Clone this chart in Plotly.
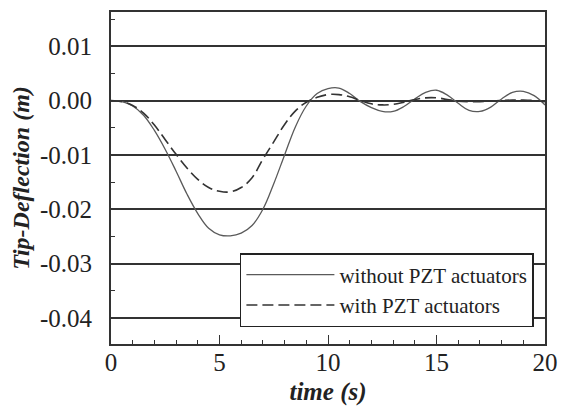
import plotly.graph_objects as go

time_s = [0, 0.5, 1.0, 1.5, 2.0, 2.5, 3.0, 3.5, 4.0, 4.5, 5.0, 5.5, 6.0, 6.5, 7.0,
          7.5, 8.0, 8.5, 9.0, 9.5, 10.0, 10.5, 11.0, 11.5, 12.0, 12.5, 13.0, 13.5,
          14.0, 14.5, 15.0, 15.5, 16.0, 16.5, 17.0, 17.5, 18.0, 18.5, 19.0, 19.5, 20.0]

without_pzt = [0, -0.0002, -0.0010, -0.0027, -0.0055, -0.0090, -0.0130, -0.0172,
               -0.0208, -0.0235, -0.0247, -0.0249, -0.0244, -0.0230, -0.0200,
               -0.0153, -0.0100, -0.0048, -0.0010, 0.0013, 0.0022, 0.0023, 0.0013,
               -0.0002, -0.0013, -0.0020, -0.0020, -0.0011, 0.0003, 0.0015, 0.0019,
               0.0010, -0.0005, -0.0018, -0.0020, -0.0012, 0.0003, 0.0015, 0.0017,
               0.0009, -0.0008]

with_pzt = [0, -0.0002, -0.0009, -0.0023, -0.0045, -0.0072, -0.0099, -0.0124,
            -0.0145, -0.0160, -0.0167, -0.0168, -0.0160, -0.0142, -0.0108,
            -0.0076, -0.0044, -0.0019, -0.0003, 0.0006, 0.0011, 0.0011, 0.0007,
            0.0000, -0.0006, -0.0008, -0.0007, -0.0003, 0.0002, 0.0005, 0.0005,
            0.0002, -0.0001, -0.0002, -0.0002, -0.0001, 0.0000, 0.0001, 0.0001,
            0.0000, -0.0002]

series_names = ["without PZT actuators", "with PZT actuators"]
y_tick_vals = [0.01, 0.0, -0.01, -0.02, -0.03, -0.04]
y_tick_text = ["0.01", "0.00", "-0.01", "-0.02", "-0.03", "-0.04"]
x_tick_vals = [0, 5, 10, 15, 20]

SERIF = "Liberation Serif"

fig = go.Figure()
fig.add_trace(go.Scatter(
    x=time_s, y=without_pzt, mode="lines", name=series_names[0],
    line=dict(color="#5a5a5a", width=1.3, shape="spline", smoothing=1.1),
))
fig.add_trace(go.Scatter(
    x=time_s, y=with_pzt, mode="lines", name=series_names[1],
    line=dict(color="#333333", width=1.6, dash="11px,5px", shape="spline", smoothing=1.1),
))

# the page body adds an 8px margin; the figure is sized to fill the rest of the window
fig.update_layout(
    width=558, height=398,
    margin=dict(l=103, r=21, t=4, b=62, autoexpand=False),
    paper_bgcolor="white", plot_bgcolor="white",
    font=dict(family=SERIF, color="#222222"),
    showlegend=True,
    legend=dict(
        x=0.297, y=0.274, xanchor="left", yanchor="top",
        bgcolor="white", bordercolor="#222222", borderwidth=1.5,
        font=dict(family=SERIF, size=21, color="#222222"),
        itemwidth=88, tracegroupgap=0,
    ),
    xaxis=dict(
        range=[0, 20], tickvals=x_tick_vals, ticktext=[str(v) for v in x_tick_vals],
        ticks="inside", ticklen=9, tickwidth=1.3, tickcolor="#333333",
        minor=dict(dtick=1, ticks="inside", ticklen=4, tickwidth=1.3, tickcolor="#333333", showgrid=False),
        showgrid=False, zeroline=False, automargin=False,
        showline=True, linecolor="#333333", linewidth=2, mirror=True,
        ticklabelstandoff=-5,
        tickfont=dict(family=SERIF, size=25, color="#222222"),
        title=dict(text="<b><i>time (s)</i></b>", font=dict(family=SERIF, size=25, color="#222222"), standoff=11),
    ),
    yaxis=dict(
        range=[-0.0448, 0.0163], tickvals=y_tick_vals, ticktext=y_tick_text,
        ticks="", showgrid=True, gridcolor="#333333", gridwidth=1.6,
        minor=dict(dtick=0.005, tick0=0.005, ticks="inside", ticklen=4, tickwidth=1.3, tickcolor="#333333", showgrid=False),
        zeroline=False, automargin=False,
        showline=True, linecolor="#333333", linewidth=2, mirror=True,
        ticklabelstandoff=12,
        tickfont=dict(family=SERIF, size=25, color="#222222"),
        title=dict(text="<b><i>Tip-Deflection (m)</i></b>", font=dict(family=SERIF, size=24, color="#222222"), standoff=5),
    ),
)

fig.write_html("out.html")
